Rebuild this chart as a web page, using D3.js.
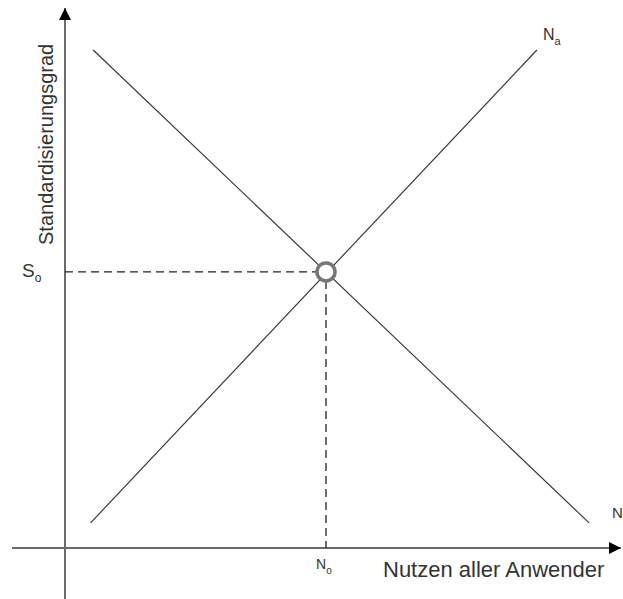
<!DOCTYPE html>
<html>
<head>
<meta charset="utf-8">
<script src="https://cdn.jsdelivr.net/npm/d3@7"></script>
<style>
  html, body { margin: 0; padding: 0; background: #fff; }
  svg { display: block; font-family: "Liberation Sans", Arial, sans-serif; }
</style>
</head>
<body>
<div id="chart"></div>
<script>
// lines in data units (x: Nutzen, y: Standardisierungsgrad)
const nLine = [{x: 5.4, y: 99.2}, {x: 100.4, y: 5.0}];
const naLine = [{x: 4.9, y: 5.0}, {x: 90.4, y: 99.2}];
const equilibrium = {x: 50, y: 55};

const xLabel = "Nutzen aller Anwender";
const yLabel = "Standardisierungsgrad";

const width = 623, height = 599;

const x = d3.scaleLinear().domain([0, 100]).range([65, 587]);
const y = d3.scaleLinear().domain([0, 100]).range([548, 46]);

const svg = d3.select("#chart").append("svg")
    .attr("width", width)
    .attr("height", height);

// arrow head
svg.append("defs").append("marker")
    .attr("id", "arrow")
    .attr("viewBox", "0 0 12 12")
    .attr("refX", 12)
    .attr("refY", 6)
    .attr("markerWidth", 12)
    .attr("markerHeight", 12)
    .attr("markerUnits", "userSpaceOnUse")
    .attr("orient", "auto")
  .append("path")
    .attr("d", "M0,0 L12,6 L0,12 Z")
    .attr("fill", "#000");

// axes
svg.append("line")
    .attr("x1", 12).attr("y1", y(0))
    .attr("x2", 621).attr("y2", y(0))
    .attr("stroke", "#6b6b6b")
    .attr("stroke-width", 2)
    .attr("marker-end", "url(#arrow)");

svg.append("line")
    .attr("x1", x(0)).attr("y1", height)
    .attr("x2", x(0)).attr("y2", 8)
    .attr("stroke", "#6b6b6b")
    .attr("stroke-width", 2)
    .attr("marker-end", "url(#arrow)");

const line = d3.line().x(d => x(d.x)).y(d => y(d.y));

svg.selectAll("path.curve")
  .data([nLine, naLine])
  .join("path")
    .attr("class", "curve")
    .attr("d", line)
    .attr("fill", "none")
    .attr("stroke", "#3a3a3a")
    .attr("stroke-width", 1.2);

// dashed guides
const r = 9;
svg.append("line")
    .attr("x1", x(0)).attr("y1", y(equilibrium.y))
    .attr("x2", x(equilibrium.x) - r).attr("y2", y(equilibrium.y))
    .attr("stroke", "#222")
    .attr("stroke-width", 1.3)
    .attr("stroke-dasharray", "8,5");

svg.append("line")
    .attr("x1", x(equilibrium.x)).attr("y1", y(equilibrium.y) + r)
    .attr("x2", x(equilibrium.x)).attr("y2", y(0))
    .attr("stroke", "#222")
    .attr("stroke-width", 1.3)
    .attr("stroke-dasharray", "8,5");

svg.append("circle")
    .attr("cx", x(equilibrium.x))
    .attr("cy", y(equilibrium.y))
    .attr("r", r)
    .attr("fill", "#fff")
    .attr("stroke", "#777")
    .attr("stroke-width", 3.5);

// labels
function subLabel(tx, ty, main, sub, size, subSize) {
  const t = svg.append("text")
      .attr("x", tx).attr("y", ty)
      .attr("fill", "#333")
      .attr("font-size", size);
  t.append("tspan").text(main);
  t.append("tspan").attr("dy", 5).attr("font-size", subSize).text(sub);
}

subLabel(22, 277, "S", "o", 19, 12);
subLabel(543, 40, "N", "a", 16, 11);
subLabel(316, 569, "N", "o", 14, 10);

svg.append("text")
    .attr("x", 612).attr("y", 518)
    .attr("fill", "#333")
    .attr("font-size", 15)
    .text("N");

svg.append("text")
    .attr("x", 383).attr("y", 577)
    .attr("fill", "#333")
    .attr("font-size", 22)
    .text(xLabel);

svg.append("text")
    .attr("transform", "translate(53,245) rotate(-90)")
    .attr("fill", "#333")
    .attr("font-size", 20)
    .text(yLabel);
</script>
</body>
</html>
